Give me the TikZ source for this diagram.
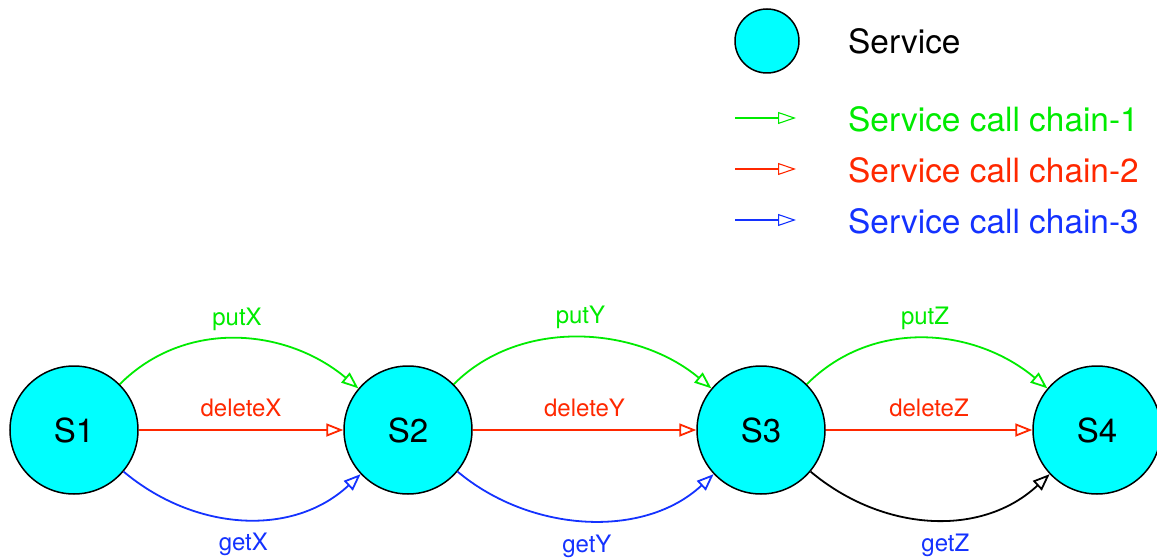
\documentclass[tikz,border=0pt]{standalone}
\usepackage{fontspec}
\setmainfont{TeX Gyre Heros}
\usetikzlibrary{arrows.meta}
\definecolor{chainA}{RGB}{0,235,0}
\definecolor{chainB}{RGB}{255,40,0}
\definecolor{chainC}{RGB}{20,50,255}
\definecolor{svcfill}{RGB}{0,255,255}

\begin{document}
\begin{tikzpicture}[x=1pt,y=1pt,
  svc/.style={circle, draw=black, line width=1.5pt, fill=svcfill,
    minimum size=128pt, inner sep=0pt, font=\fontsize{33}{38}\selectfont},
  call/.style={line width=1.8pt, -{Triangle[open, length=17pt, width=13pt]}},
  lbl/.style={font=\fontsize{24}{28}\selectfont, inner sep=0pt,
    text height=17pt, text depth=5pt},
  legtext/.style={font=\fontsize{33.4}{38}\selectfont, anchor=west, inner sep=0pt},
  legarrow/.style={line width=1.1pt, -{Triangle[open, length=18pt, width=12pt]}}]

\useasboundingbox (0,0) rectangle (1157,558);

% legend
\node[svc, minimum size=64pt] (legsvc) at (767,517) {};
\node[legtext] (legsvctext) at (848,517) {Service};

\coordinate (la1) at (735,440); \coordinate (lb1) at (796,440);
\coordinate (la2) at (735,389); \coordinate (lb2) at (796,389);
\coordinate (la3) at (735,338); \coordinate (lb3) at (796,338);
\draw[legarrow, chainA] (la1) -- (lb1);
\draw[legarrow, chainB] (la2) -- (lb2);
\draw[legarrow, chainC] (la3) -- (lb3);
\node[legtext, text=chainA] (lt1) at (848,439) {Service call chain-1};
\node[legtext, text=chainB] (lt2) at (848,388) {Service call chain-2};
\node[legtext, text=chainC] (lt3) at (848,337) {Service call chain-3};

% services
\node[svc] (s1) at (74,128) {S1};
\node[svc] (s2) at (408,128) {S2};
\node[svc] (s3) at (761,128) {S3};
\node[svc] (s4) at (1097,128) {S4};

% chain-1: put calls
\draw[call, chainA] (s1) to[out=45, in=140]
  node[lbl, pos=0.5, yshift=20pt, text=chainA] (putx) {putX} (s2);
\draw[call, chainA] (s2) to[out=45, in=140, looseness=0.95]
  node[lbl, pos=0.5, yshift=20pt, text=chainA] (puty) {putY} (s3);
\draw[call, chainA] (s3) to[out=45, in=140]
  node[lbl, pos=0.5, yshift=20pt, text=chainA] (putz) {putZ} (s4);

% chain-2: delete calls
\draw[call, chainB] (s1) --
  node[lbl, pos=0.5, yshift=20pt, text=chainB] (delx) {deleteX} (s2);
\draw[call, chainB] (s2) --
  node[lbl, pos=0.5, yshift=20pt, text=chainB] (dely) {deleteY} (s3);
\draw[call, chainB] (s3) --
  node[lbl, pos=0.5, yshift=20pt, text=chainB] (delz) {deleteZ} (s4);

% chain-3: get calls
\draw[call, chainC] (s1) to[out=-40, in=-137]
  node[lbl, pos=0.5, yshift=-26pt, text=chainC] (getx) {getX} (s2);
\draw[call, chainC] (s2) to[out=-40, in=-137, looseness=0.95]
  node[lbl, pos=0.5, yshift=-26pt, text=chainC] (gety) {getY} (s3);
\draw[call, black] (s3) to[out=-40, in=-137]
  node[lbl, pos=0.5, yshift=-26pt, xshift=14pt, text=chainC] (getz) {getZ} (s4);

\end{tikzpicture}
\end{document}
